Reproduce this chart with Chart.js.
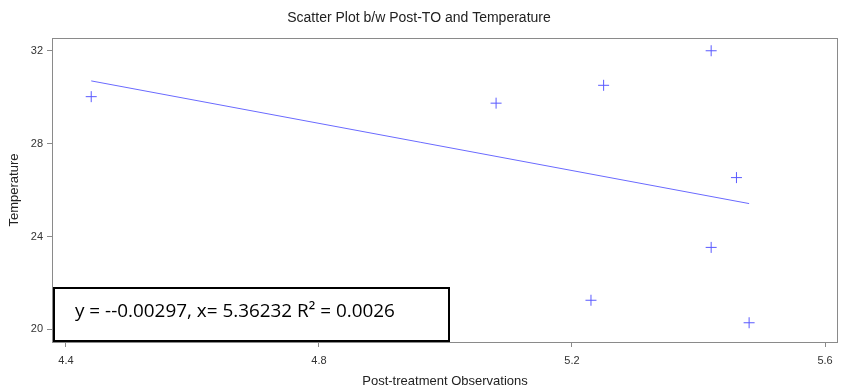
<!DOCTYPE html>
<html>
<head>
<meta charset="utf-8">
<script src="https://cdn.jsdelivr.net/npm/chart.js@4/dist/chart.umd.min.js"></script>
<style>
  html, body { margin: 0; padding: 0; background: #fff; }
  #wrap { width: 841px; height: 392px; }
</style>
</head>
<body>
<div id="wrap"><canvas id="c" width="841" height="392"></canvas></div>
<script>
// ---- data ----
const postTO      = [4.44, 5.08, 5.25, 5.42, 5.46, 5.42, 5.23, 5.48];
const temperature = [30.03, 29.75, 30.52, 32.01, 26.54, 23.53, 21.25, 20.28];
const fitX = [4.44, 5.48];
const fitY = [30.71, 25.42];
const xTicks = [4.4, 4.8, 5.2, 5.6];
const yTicks = [20, 24, 28, 32];
const chartTitle = 'Scatter Plot b/w Post-TO and Temperature';
const xTitle = 'Post-treatment Observations';
const yTitle = 'Temperature';
const equationText = 'y = --0.00297, x= 5.36232 R\u00B2 = 0.0026';

const points = postTO.map((x, i) => ({ x: x, y: temperature[i] }));
const fitLine = fitX.map((x, i) => ({ x: x, y: fitY[i] }));

const FONT = '"Liberation Sans", Arial, sans-serif';

const framePlugin = {
  id: 'frame',
  afterDatasetsDraw(chart) {
    const { ctx, chartArea: a } = chart;
    ctx.save();
    ctx.strokeStyle = '#8a8a8a';
    ctx.lineWidth = 1;
    ctx.strokeRect(Math.round(a.left) + 0.5, Math.round(a.top) + 0.5,
                   Math.round(a.right - a.left) - 1, Math.round(a.bottom - a.top));
    ctx.restore();
  }
};

const boxPlugin = {
  id: 'eqbox',
  afterDraw(chart) {
    const { ctx, chartArea: a } = chart;
    const left = a.left + 1, right = a.left + 398, top = a.bottom - 55, bottom = a.bottom;
    ctx.save();
    ctx.fillStyle = '#fff';
    ctx.fillRect(left, top, right - left, bottom - top);
    ctx.strokeStyle = '#000';
    ctx.lineWidth = 2;
    ctx.strokeRect(left + 1, top + 1, right - left - 2, bottom - top - 2);
    let size = 18;
    ctx.font = size + 'px "Open Sans", "Liberation Sans", sans-serif';
    const w = ctx.measureText(equationText).width;
    size = size * 320 / w;
    ctx.font = size.toFixed(2) + 'px "Open Sans", "Liberation Sans", sans-serif';
    ctx.fillStyle = '#000';
    ctx.textBaseline = 'middle';
    ctx.textAlign = 'left';
    ctx.fillText(equationText, left + 22, top + 25);
    ctx.restore();
  }
};

new Chart(document.getElementById('c'), {
  type: 'scatter',
  data: {
    datasets: [
      {
        data: points,
        pointStyle: 'cross',
        pointRadius: 5.5,
        pointHoverRadius: 5.5,
        borderColor: '#5a5aff',
        backgroundColor: '#5a5aff',
        borderWidth: 1
      },
      {
        type: 'line',
        data: fitLine,
        borderColor: '#6a6aff',
        borderWidth: 1,
        pointRadius: 0,
        fill: false
      }
    ]
  },
  options: {
    responsive: false,
    animation: false,
    devicePixelRatio: 1,
    layout: { autoPadding: false, padding: { left: 0, right: 3, top: 0, bottom: 0 } },
    plugins: {
      legend: { display: false },
      tooltip: { enabled: false },
      title: {
        display: true,
        text: chartTitle,
        color: '#222',
        font: { family: FONT, size: 14, weight: 'normal', lineHeight: 1.2 },
        padding: { top: 10, bottom: 11.2 }
      }
    },
    scales: {
      x: {
        type: 'linear',
        min: 4.378,
        max: 5.6205,
        afterFit: s => { s.height = 50; s.paddingLeft = 0; s.paddingRight = 0; },
        afterBuildTicks: s => { s.ticks = xTicks.map(v => ({ value: v })); },
        grid: { drawOnChartArea: false, drawTicks: true, tickLength: 5, color: '#8a8a8a', tickColor: '#8a8a8a' },
        border: { display: false },
        ticks: {
          color: '#333',
          font: { family: FONT, size: 11 },
          padding: 7,
          maxRotation: 0,
          autoSkip: false,
          callback: v => v.toFixed(1)
        },
        title: {
          display: true,
          text: xTitle,
          color: '#222',
          font: { family: FONT, size: 13, lineHeight: 1.2 },
          padding: { top: 0, bottom: 3 }
        }
      },
      y: {
        type: 'linear',
        min: 19.45,
        max: 32.56,
        afterFit: s => { s.width = 52; s.paddingTop = 0; s.paddingBottom = 0; },
        afterBuildTicks: s => { s.ticks = yTicks.map(v => ({ value: v })); },
        grid: { drawOnChartArea: false, drawTicks: true, tickLength: 5, color: '#8a8a8a', tickColor: '#8a8a8a' },
        border: { display: false },
        ticks: {
          color: '#333',
          font: { family: FONT, size: 11 },
          padding: 4,
          autoSkip: false,
          callback: v => String(v)
        },
        title: {
          display: true,
          text: yTitle,
          color: '#222',
          font: { family: FONT, size: 13, lineHeight: 1.2 },
          padding: { top: 7, bottom: 0 }
        }
      }
    }
  },
  plugins: [framePlugin, boxPlugin]
});
</script>
</body>
</html>
